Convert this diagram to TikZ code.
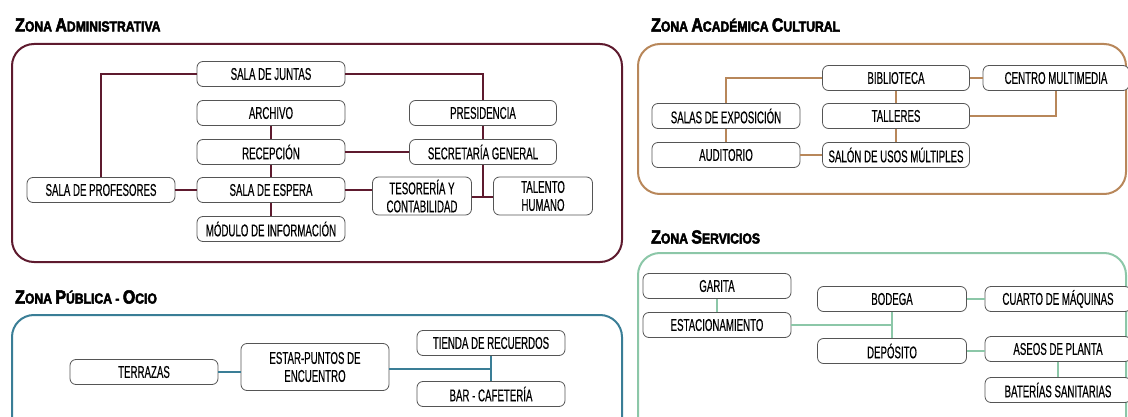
\documentclass[tikz,border=0pt]{standalone}
\usepackage{fontspec}
\setmainfont{Liberation Sans}[FakeStretch=0.57,FakeBold=0.4]
\newfontfamily\titlefont{Liberation Sans Bold}[FakeStretch=0.84,FakeBold=3]
\definecolor{admc}{HTML}{5E1A2E}
\definecolor{acac}{HTML}{B8875A}
\definecolor{pubc}{HTML}{3A7E96}
\definecolor{serc}{HTML}{8CC7A8}
\definecolor{nodeb}{HTML}{555555}
\tikzset{
  room/.style={draw=nodeb, line width=0.8pt, rounded corners=6pt, fill=white,
    minimum height=25pt, inner sep=1pt, align=center, font=\fontsize{17}{18}\selectfont},
  zone/.style={line width=2pt, rounded corners=22pt},
  ztitle/.style={anchor=west, inner sep=0pt},
  link/.style={line width=1.4pt}
}
\newcommand{\ztt}[2]{{\titlefont\fontsize{19}{18}\selectfont #1}{\titlefont\fontsize{14.5}{14}\selectfont #2}}
\begin{document}
\begin{tikzpicture}[x=1pt,y=-1pt]
\useasboundingbox (0,0) rectangle (1128,417);
\clip (0,0) rectangle (1128,417);
% ---------- Zona Administrativa ----------
\node[ztitle] (tadm) at (15,25) {\ztt{Z}{ONA }\ztt{A}{DMINISTRATIVA}};
\draw[zone, draw=admc] (12,44) rectangle (622,262);
\node[room, minimum width=148pt] (juntas) at (271,74) {SALA DE JUNTAS};
\node[room, minimum width=148pt] (archivo) at (271,113) {ARCHIVO};
\node[room, minimum width=147pt] (presi) at (483,113) {PRESIDENCIA};
\node[room, minimum width=148pt] (recep) at (271,152) {RECEPCIÓN};
\node[room, minimum width=147pt] (secre) at (483,152) {SECRETARÍA GENERAL};
\node[room, minimum width=148pt] (profes) at (101,190) {SALA DE PROFESORES};
\node[room, minimum width=148pt] (espera) at (271,190) {SALA DE ESPERA};
\node[room, minimum width=99pt, minimum height=38pt] (teso) at (422,196) {TESORERÍA Y\\CONTABILIDAD};
\node[room, minimum width=99pt, minimum height=38pt] (talento) at (543,196) {TALENTO\\HUMANO};
\node[room, minimum width=148pt] (modulo) at (271,229) {MÓDULO DE INFORMACIÓN};
\coordinate (jt) at (483,197);
\begin{scope}[draw=admc]
\draw[link] (juntas.west) -| (profes.north);
\draw[link] (juntas.east) -| (presi.north);
\draw[link] (archivo) -- (recep);
\draw[link] (recep) -- (secre);
\draw[link] (presi) -- (secre);
\draw[link] (secre.south) -- (jt);
\draw[link] (teso.east |- jt) -- (talento.west |- jt);
\draw[link] (recep) -- (espera);
\draw[link] (profes) -- (espera);
\draw[link] (espera.east) -- (teso.west |- espera.east);
\draw[link] (espera) -- (modulo);
\end{scope}
% ---------- Zona Académica Cultural ----------
\node[ztitle] (taca) at (651,25) {\ztt{Z}{ONA }\ztt{A}{CADÉMICA }\ztt{C}{ULTURAL}};
\draw[zone, draw=acac] (638,44) rectangle (1126,194);
\node[room, minimum width=147pt] (biblio) at (896,78) {BIBLIOTECA};
\node[room, minimum width=146pt] (centro) at (1056,78) {CENTRO MULTIMEDIA};
\node[room, minimum width=148pt] (salas) at (726,116) {SALAS DE EXPOSICIÓN};
\node[room, minimum width=147pt] (talleres) at (896,116) {TALLERES};
\node[room, minimum width=148pt] (audi) at (726,155) {AUDITORIO};
\node[room, minimum width=147pt] (salon) at (896,155) {SALÓN DE USOS MÚLTIPLES};
\begin{scope}[draw=acac]
\draw[link] (biblio.west) -| (salas.north);
\draw[link] (biblio) -- (centro);
\draw[link] (biblio) -- (talleres);
\draw[link] (centro.south) |- (talleres.east);
\draw[link] (talleres) -- (salon);
\draw[link] (salas) -- (audi);
\draw[link] (audi) -- (salon);
\end{scope}
% ---------- Zona Pública - Ocio ----------
\node[ztitle] (tpub) at (15,297) {\ztt{Z}{ONA }\ztt{P}{ÚBLICA - }\ztt{O}{CIO}};
\draw[zone, draw=pubc] (12,315) rectangle (622,440);
\node[room, minimum width=148pt] (terr) at (144,372) {TERRAZAS};
\node[room, minimum width=148pt, minimum height=47pt] (estar) at (315,367) {ESTAR-PUNTOS DE\\ENCUENTRO};
\node[room, minimum width=148pt] (tienda) at (491,343) {TIENDA DE RECUERDOS};
\node[room, minimum width=148pt] (bar) at (491,394) {BAR - CAFETERÍA};
\coordinate (pj) at (491,369);
\begin{scope}[draw=pubc]
\draw[link] (terr.east) -- (estar.west |- terr.east);
\draw[link] (estar.east |- pj) -- (pj);
\draw[link] (tienda) -- (bar);
\end{scope}
% ---------- Zona Servicios ----------
\node[ztitle] (tser) at (651,237) {\ztt{Z}{ONA }\ztt{S}{ERVICIOS}};
\draw[zone, draw=serc] (638,253) rectangle (1126,440);
\node[room, minimum width=148pt] (garita) at (717,286) {GARITA};
\node[room, minimum width=148pt] (estac) at (717,325) {ESTACIONAMIENTO};
\node[room, minimum width=149pt] (bodega) at (892,299) {BODEGA};
\node[room, minimum width=146pt] (cuarto) at (1058,299) {CUARTO DE MÁQUINAS};
\node[room, minimum width=149pt] (depo) at (892,351) {DEPÓSITO};
\node[room, minimum width=146pt] (aseos) at (1058,349) {ASEOS DE PLANTA};
\node[room, minimum width=146pt] (bater) at (1058,390) {BATERÍAS SANITARIAS};
\coordinate (sj) at (892,325);
\begin{scope}[draw=serc]
\draw[link] (garita) -- (estac);
\draw[link] (estac.east) -- (sj);
\draw[link] (bodega) -- (depo);
\draw[link] (bodega) -- (cuarto);
\draw[link] (depo.east) -- (aseos.west |- depo.east);
\draw[link] (aseos) -- (bater);
\end{scope}
\end{tikzpicture}
\end{document}
